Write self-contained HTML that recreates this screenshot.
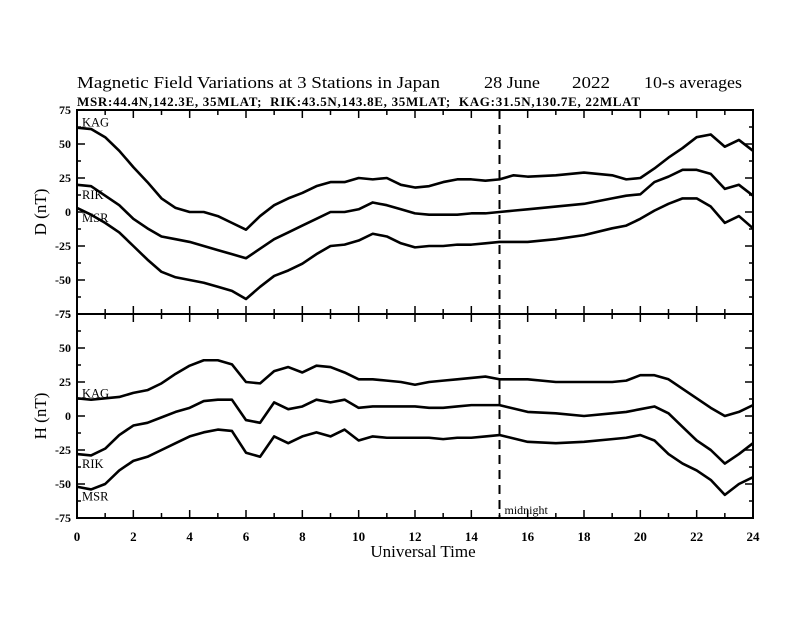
<!DOCTYPE html>
<html><head><meta charset="utf-8"><style>
body{margin:0;background:#fff}
svg text{font-family:"Liberation Serif",serif;fill:#000}
</style></head><body>
<svg id="chart" width="792" height="612" viewBox="0 0 792 612">
<text x="77" y="88" font-size="17" textLength="363" lengthAdjust="spacingAndGlyphs">Magnetic Field Variations at 3 Stations in Japan</text>
<text x="484" y="88" font-size="17" textLength="56" lengthAdjust="spacingAndGlyphs">28 June</text>
<text x="572" y="88" font-size="17" textLength="38" lengthAdjust="spacingAndGlyphs">2022</text>
<text x="644" y="88" font-size="17" textLength="98" lengthAdjust="spacingAndGlyphs">10-s averages</text>
<text x="77" y="106" font-size="13" font-weight="bold" textLength="563" lengthAdjust="spacing" xml:space="preserve">MSR:44.4N,142.3E, 35MLAT;  RIK:43.5N,143.8E, 35MLAT;  KAG:31.5N,130.7E, 22MLAT</text>
</svg>
<script>
const tD=[0,0.5,1,1.5,2,2.5,3,3.5,4,4.5,5,5.5,6,6.5,7,7.5,8,8.5,9,9.5,10,10.5,11,11.5,12,12.5,13,13.5,14,14.5,15,15.5,16,17,18,19,19.5,20,20.5,21,21.5,22,22.5,23,23.5,24];
const kagD=[62,61,55,45,33,22,10,3,0,0,-3,-8,-13,-3,5,10,14,19,22,22,25,24,25,20,18,19,22,24,24,23,24,27,26,27,29,27,24,25,32,40,47,55,57,48,53,45];
const rikD=[20,19,12,5,-5,-12,-18,-20,-22,-25,-28,-31,-34,-27,-20,-15,-10,-5,0,0,2,7,5,2,-1,-2,-2,-2,-1,-1,0,1,2,4,6,10,12,13,22,26,31,31,28,17,20,12];
const msrD=[3,-2,-8,-15,-25,-35,-44,-48,-50,-52,-55,-58,-64,-55,-47,-43,-38,-31,-25,-24,-21,-16,-18,-23,-26,-25,-25,-24,-24,-23,-22,-22,-22,-20,-17,-12,-10,-5,1,6,10,10,4,-8,-3,-12];
const tH=[0,0.5,1,1.5,2,2.5,3,3.5,4,4.5,5,5.5,6,6.5,7,7.5,8,8.5,9,9.5,10,10.5,11,11.5,12,12.5,13,13.5,14,14.5,15,16,17,18,19,19.5,20,20.5,21,21.5,22,22.5,23,23.5,24];
const kagH=[13,12,13,14,17,19,24,31,37,41,41,38,25,24,33,36,32,37,36,32,27,27,26,25,23,25,26,27,28,29,27,27,25,25,25,26,30,30,27,20,13,6,0,3,8];
const rikH=[-28,-29,-24,-14,-7,-5,-1,3,6,11,12,12,-3,-5,10,5,7,12,10,12,6,7,7,7,7,6,6,7,8,8,8,3,2,0,2,3,5,7,2,-8,-18,-25,-35,-28,-20];
const msrH=[-52,-54,-50,-40,-33,-30,-25,-20,-15,-12,-10,-11,-27,-30,-15,-20,-15,-12,-15,-10,-18,-15,-16,-16,-16,-16,-17,-16,-16,-15,-14,-19,-20,-19,-17,-16,-14,-18,-28,-35,-40,-47,-58,-50,-45];
const xTicks=[0,2,4,6,8,10,12,14,16,18,20,22,24];
const yTicks=[75,50,25,0,-25,-50,-75];
const NS='http://www.w3.org/2000/svg';
const svg=document.getElementById('chart');
const X0=77,X1=753;
const xs=t=>X0+(X1-X0)*t/24;
const ys=(v,top)=>top+(75-v)*204/150;
function mk(tag,attrs,parent){const e=document.createElementNS(NS,tag);for(const k in attrs)e.setAttribute(k,attrs[k]);(parent||svg).appendChild(e);return e;}
function panel(top,name,series,t,labelName){
  const g=mk('g',{});
  
  
  const r=mk('rect',{x:X0,y:top,width:X1-X0,height:204,fill:'none',stroke:'#000','stroke-width':2},g);
  
  
  for(let h=0;h<=24;h++){const x=xs(h),L=h%2===0?8:5;
    mk('line',{x1:x,y1:top,x2:x,y2:top+L,stroke:'#000','stroke-width':1.5},g);
    mk('line',{x1:x,y1:top+204,x2:x,y2:top+204-L,stroke:'#000','stroke-width':1.5},g);}
  for(let v=-75;v<=75;v+=12.5){const y=ys(v,top),L=(v%25===0)?8:4;
    mk('line',{x1:X0,y1:y,x2:X0+L,y2:y,stroke:'#000','stroke-width':1.5},g);
    mk('line',{x1:X1,y1:y,x2:X1-L,y2:y,stroke:'#000','stroke-width':1.5},g);}
  yTicks.forEach(v=>{const tx=mk('text',{x:X0-6,y:ys(v,top)+4,'font-size':12,'font-weight':'bold','text-anchor':'end'},g);tx.textContent=v;
    
    });
  const yl=mk('text',{x:0,y:0,'font-size':17,'text-anchor':'middle',transform:`translate(46,${top+102}) rotate(-90)`},g);
  yl.textContent=labelName;
  
  
  series.forEach(s=>{
    const p=mk('polyline',{points:s.v.map((v,i)=>xs(t[i])+','+ys(v,top)).join(' '),fill:'none',stroke:'#000','stroke-width':2.6,'stroke-linejoin':'round'},g);
    
    
    const lb=mk('text',{x:82,y:ys(s.v[0],top)+s.dy,'font-size':12.5},g);lb.textContent=s.n;
    
    
  });
}
panel(110,'d',[{n:'KAG',v:kagD,dy:-1},{n:'RIK',v:rikD,dy:14},{n:'MSR',v:msrD,dy:14}],tD,'D (nT)');
panel(314,'h',[{n:'KAG',v:kagH,dy:-1},{n:'RIK',v:rikH,dy:14},{n:'MSR',v:msrH,dy:14}],tH,'H (nT)');
xTicks.forEach(h=>{const tx=mk('text',{x:xs(h),y:541,'font-size':13,'font-weight':'bold','text-anchor':'middle'});tx.textContent=h;
  
  });
const xt=mk('text',{x:423,y:557,'font-size':17,'text-anchor':'middle'});xt.textContent='Universal Time';


const ml=mk('line',{x1:xs(15),y1:110,x2:xs(15),y2:518,stroke:'#000','stroke-width':2,'stroke-dasharray':'9,6'});


const mt=mk('text',{x:xs(15)+5,y:514,'font-size':12});mt.textContent='midnight';


</script>
</body></html>
